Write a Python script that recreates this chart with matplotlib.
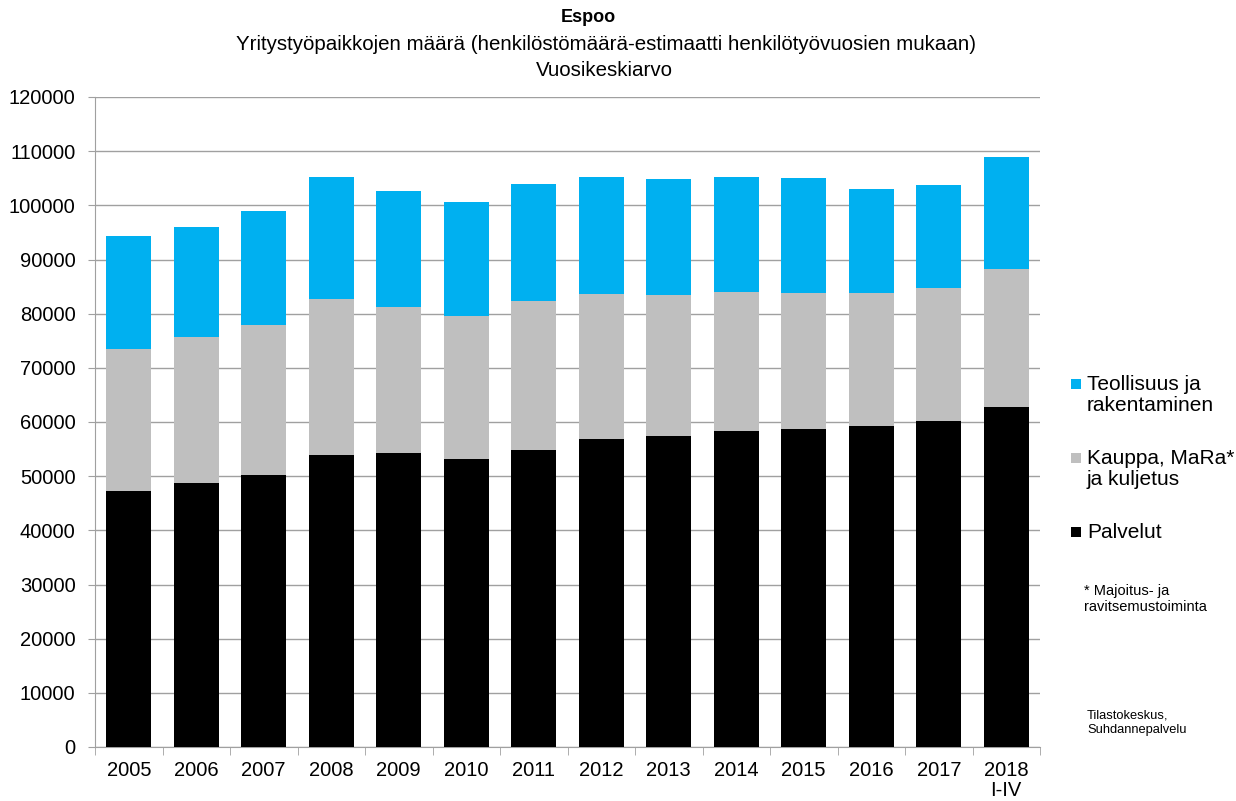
import matplotlib.pyplot as plt
from matplotlib.patches import Rectangle
import numpy as np

plt.rcParams['font.family'] = ['Liberation Sans', 'DejaVu Sans']

# 数据
years = ['2005', '2006', '2007', '2008', '2009', '2010', '2011',
         '2012', '2013', '2014', '2015', '2016', '2017', '2018\nI-IV']
palvelut = [47300, 48800, 50300, 53900, 54200, 53200, 54800,
            56800, 57400, 58300, 58700, 59300, 60200, 62800]
kauppa = [26200, 26950, 27600, 28800, 27000, 26400, 27600,
          26800, 26000, 25700, 25200, 24500, 24500, 25400]
teollisuus = [20900, 20300, 21050, 22500, 21500, 21100, 21500,
              21600, 21400, 21200, 21100, 19300, 19050, 20700]

labels = ['Palvelut', 'Kauppa, MaRa*\nja kuljetus', 'Teollisuus ja\nrakentaminen']
colors = ['#000000', '#BFBFBF', '#00B0F0']

fig = plt.figure(figsize=(12.36, 8.01), dpi=100)
ax = fig.add_axes([95 / 1236, 1 - 747 / 801, 945 / 1236, 650 / 801])

x = np.arange(len(years))
w = 0.66
ax.bar(x, palvelut, w, color=colors[0], zorder=3)
ax.bar(x, kauppa, w, bottom=palvelut, color=colors[1], zorder=3)
ax.bar(x, teollisuus, w, bottom=np.add(palvelut, kauppa), color=colors[2], zorder=3)

ax.set_xlim(-0.5, len(years) - 0.5)
ax.set_ylim(0, 120000)
ax.set_yticks(range(0, 120001, 10000))
ax.tick_params(axis='y', labelsize=14.5, length=5, color='#A0A0A0', pad=9)
ax.set_xticks(x)
ax.set_xticklabels(years, fontsize=14.5, linespacing=1.1)
ax.tick_params(axis='x', which='major', length=0, pad=10)
ax.set_xticks(np.arange(-0.5, len(years), 1), minor=True)
ax.tick_params(axis='x', which='minor', length=6, color='#A0A0A0')

ax.grid(axis='y', color='#A0A0A0', linewidth=1, zorder=0)
for s in ['top', 'right']:
    ax.spines[s].set_visible(False)
ax.spines['left'].set_color('#A0A0A0')
ax.spines['bottom'].set_color('#A0A0A0')

# 标题
fig.text(0.476, 1 - 18 / 801, 'Espoo', ha='center', va='center', fontsize=13, fontweight='bold')
fig.text(0.49, 1 - 44 / 801,
         'Yritystyöpaikkojen määrä (henkilöstömäärä-estimaatti henkilötyövuosien mukaan)',
         ha='center', va='center', fontsize=14.8)
fig.text(0.489, 1 - 70 / 801, 'Vuosikeskiarvo', ha='center', va='center', fontsize=14.8)

# 图例 (手动)
leg_y = [532, 458, 384]
for lab, c, yy in zip(labels, colors, leg_y):
    fig.add_artist(Rectangle((1071 / 1236, 1 - (yy + 5) / 801), 10 / 1236, 10 / 801,
                             facecolor=c, edgecolor='none', transform=fig.transFigure))
    fig.text(1087 / 1236, 1 - (yy - 9) / 801, lab, ha='left', va='top',
             fontsize=15, linespacing=1.15)

fig.text(1084 / 1236, 1 - 584 / 801, '* Majoitus- ja\nravitsemustoiminta',
         ha='left', va='top', fontsize=10.5, linespacing=1.2)
fig.text(1087 / 1236, 1 - 709 / 801, 'Tilastokeskus,\nSuhdannepalvelu',
         ha='left', va='top', fontsize=9.3, linespacing=1.3)

fig.savefig('out.png', dpi=100)
